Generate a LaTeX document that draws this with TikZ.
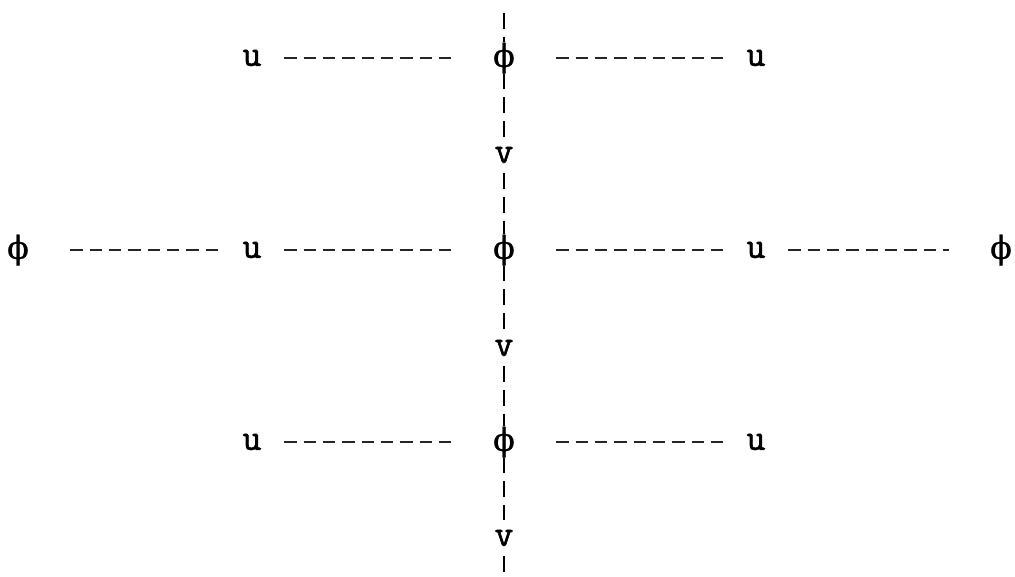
\documentclass[tikz,border=0pt]{standalone}
\usepackage{fontspec}
\newfontfamily\phifont{DejaVu Serif}[FakeBold=1.2]
\newfontfamily\lettfont{Latin Modern Mono}[FakeBold=1.6]
\usetikzlibrary{positioning}
\tikzset{
  fieldnode/.style={inner sep=0pt, minimum width=2.08cm,
                    font=\fontsize{18}{20}\selectfont\phifont},
  linknode/.style={inner sep=0pt, minimum width=1.28cm,
                   font=\fontsize{21}{24}\selectfont\lettfont},
  vnode/.style={inner xsep=0pt, inner ysep=0.2cm,
                font=\fontsize{21}{24}\selectfont\lettfont},
  hdash/.style={line width=1.5pt, black!85, dash pattern=on 7pt off 4pt},
  vdash/.style={line width=1.4pt, dash pattern=on 9pt off 4.5pt},
}

\begin{document}
\begin{tikzpicture}[x=0.02cm, y=-0.02cm]
\useasboundingbox (0,0) rectangle (1015,576);

% ── Mittelachse ─────────────────────────────────────────────
\coordinate (top) at (504,13);
\coordinate (bot) at (504,576);
\node[fieldnode] (phiA) at (504,58)  {ϕ};
\node[vnode]     (vA)   at (504,155) {v};
\node[fieldnode] (phiB) at (504,250) {ϕ};
\node[vnode]     (vB)   at (504,348) {v};
\node[fieldnode] (phiC) at (504,442) {ϕ};
\node[vnode]     (vC)   at (504,538) {v};

% ── obere Zeile ─────────────────────────────────────────────
\node[linknode] (uAl) at (252,58) {u};
\node[linknode] (uAr) at (756,58) {u};

% ── mittlere Zeile ──────────────────────────────────────────
\node[fieldnode] (phiBl) at (18,250)   {ϕ};
\node[linknode]  (uBl)   at (252,250)  {u};
\node[linknode]  (uBr)   at (756,250)  {u};
\node[fieldnode] (phiBr) at (1001,250) {ϕ};

% ── untere Zeile ────────────────────────────────────────────
\node[linknode] (uCl) at (252,442) {u};
\node[linknode] (uCr) at (756,442) {u};

% ── Verbindungen ────────────────────────────────────────────
\draw[vdash] (top) -- (phiA) -- (vA) -- (phiB) -- (vB) -- (phiC) -- (vC) -- (bot);

\draw[hdash] (uAl) -- (phiA);
\draw[hdash] (phiA) -- (uAr);

\draw[hdash] (phiBl) -- (uBl);
\draw[hdash] (uBl) -- (phiB);
\draw[hdash] (phiB) -- (uBr);
\draw[hdash] (uBr) -- (phiBr);

\draw[hdash] (uCl) -- (phiC);
\draw[hdash] (phiC) -- (uCr);

\end{tikzpicture}
\end{document}
